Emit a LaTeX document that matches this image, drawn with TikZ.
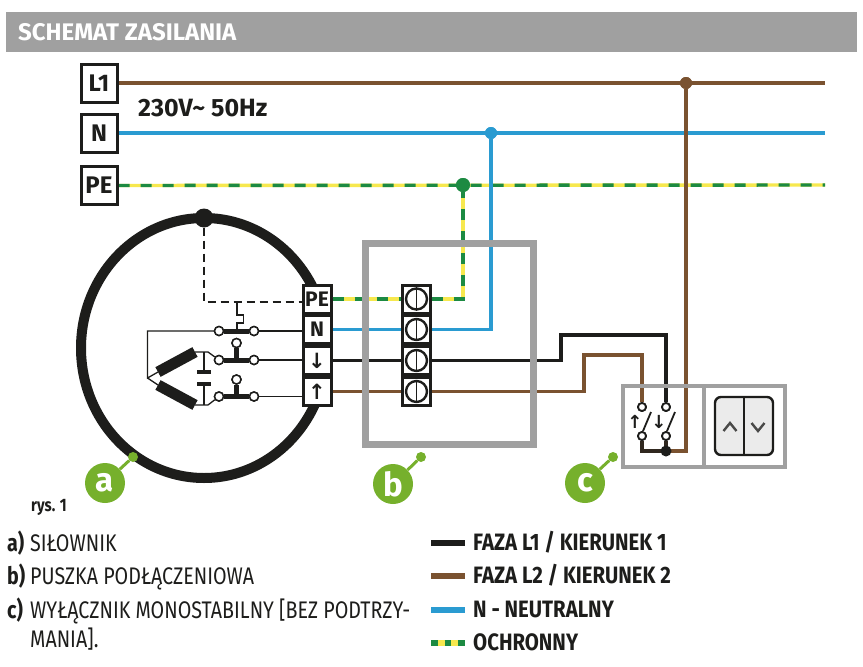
\documentclass[tikz,border=0pt]{standalone}
\usepackage{xcolor}
\usepackage{fontspec}
\setmainfont{Fira Sans}
\newfontfamily\condfont[FakeStretch=0.82]{Fira Sans}
\newfontfamily\medfont[FakeStretch=0.86]{Fira Sans}
\newfontfamily\arrowfont{DejaVu Sans}
\usetikzlibrary{shapes,arrows}
\definecolor{inkblack}{HTML}{1D1D1B}
\definecolor{wirebrown}{HTML}{7A5230}
\definecolor{wireblue}{HTML}{2A9BD1}
\definecolor{peyellow}{HTML}{F7E84E}
\definecolor{pegreen}{HTML}{1C8A42}
\definecolor{boxgray}{HTML}{A0A0A0}
\definecolor{tagreen}{HTML}{76B02C}
\tikzset{
  blackwire/.style={draw=inkblack, line width=3.2pt},
  brownwire/.style={draw=wirebrown, line width=3.2pt},
  bluewire/.style={draw=wireblue, line width=3.2pt},
  pewire/.style={draw=peyellow, line width=3.4pt, postaction={draw=pegreen, line width=3.4pt, dash pattern=on 11pt off 11pt}},
  thinwire/.style={draw=inkblack, line width=1.3pt},
  linebox/.style={draw=inkblack, fill=white, line width=3pt, minimum width=36pt, minimum height=38pt, inner sep=0pt, font=\bfseries\fontsize{24}{24}\selectfont, text=inkblack},
  termbox/.style={draw=inkblack, fill=white, line width=3pt, minimum width=28pt, minimum height=28pt, inner sep=0pt, font=\bfseries\fontsize{21}{21}\selectfont, text=inkblack},
  clampbox/.style={draw=inkblack, fill=white, line width=3pt, minimum width=28pt, minimum height=28pt, inner sep=0pt},
  screwring/.style={circle, draw=inkblack, line width=2.4pt, minimum size=21pt, inner sep=0pt},
  contact/.style={circle, draw=inkblack, fill=white, line width=1.5pt, minimum size=9pt, inner sep=0pt},
  smallcontact/.style={circle, draw=inkblack, fill=white, line width=1.8pt, minimum size=8pt, inner sep=0pt},
  junction/.style={circle, minimum size=#1, inner sep=0pt},
  framebox/.style={draw=boxgray, line width=#1},
  tagdisc/.style={circle, fill=tagreen, minimum size=40pt, inner sep=0pt, text=white, font=\bfseries\fontsize{33}{33}\selectfont},
  tagdot/.style={circle, fill=tagreen, minimum size=10pt, inner sep=0pt},
  notetext/.style={anchor=base west, inner sep=0pt, text=inkblack, font=\condfont\fontsize{24}{24}\selectfont},
  notekey/.style={anchor=base west, inner sep=0pt, text=inkblack, font=\condfont\bfseries\fontsize{24}{24}\selectfont},
  keytext/.style={anchor=base west, inner sep=0pt, text=inkblack, font=\medfont\bfseries\fontsize{23.7}{23.7}\selectfont}
}
\begin{document}
\begin{tikzpicture}[x=1pt, y=-1pt]
  \useasboundingbox (0,0) rectangle (863,667);

  % header
  \fill[boxgray] (6,12) rectangle (857,52);
  \node[anchor=base west, inner sep=0pt, text=white, font=\bfseries\fontsize{24}{24}\selectfont] (title) at (18,40) {SCHEMAT ZASILANIA};

  % supply lines
  \node[linebox] (L1) at (99,83) {L1};
  \node[linebox] (N) at (99,133) {N};
  \node[linebox] (PE) at (99,185.5) {PE};
  \node[anchor=base west, inner sep=0pt, text=inkblack, font=\bfseries\fontsize{25}{25}\selectfont] (voltage) at (138,116) {230V\char"007E\ 50Hz};
  \coordinate (L1end) at (825,83);
  \coordinate (Nend) at (825,133);
  \coordinate (PEend) at (825,185);
  \node[junction=12pt, fill=wirebrown] (L1dot) at (686,83) {};
  \node[junction=12pt, fill=wireblue] (Ndot) at (491,133) {};
  \node[junction=14pt, fill=pegreen] (PEdot) at (463,185) {};

  % actuator
  \draw[inkblack, line width=10pt] (204,348) ellipse (123pt and 130pt);
  \node[junction=19pt, fill=inkblack] (top) at (204,218) {};
  \node[termbox] (tPE) at (317,299) {PE};
  \node[termbox] (tN) at (317,329.5) {N};
  \node[termbox, font=\arrowfont\bfseries\fontsize{21}{21}\selectfont] (tD) at (317,360.5) {↓};
  \node[termbox, font=\arrowfont\bfseries\fontsize{21}{21}\selectfont] (tU) at (317,391.5) {↑};

  % connection box
  \node[clampbox] (cPE) at (416.5,299) {};
  \node[clampbox] (cN) at (416.5,329.5) {};
  \node[clampbox] (cD) at (416.5,360.5) {};
  \node[clampbox] (cU) at (416.5,391.5) {};

  % switch
  \node[smallcontact] (sUa) at (642,407) {};
  \node[smallcontact] (sDa) at (666,407) {};
  \node[smallcontact] (sUb) at (642,436) {};
  \node[smallcontact] (sDb) at (666,436) {};
  \coordinate (bendD) at (561,335);
  \coordinate (bendU) at (584,355);
  \coordinate (cornerU) at (642,451);
  \coordinate (cornerL) at (686,451);

  % wires
  \draw[brownwire] (L1) -- (L1end);
  \draw[bluewire] (N) -- (Nend);
  \draw[pewire] (PE) -- (PEend);
  \draw[pewire] (tPE) -- (cPE);
  \draw[pewire] (cPE) -| (PEdot);
  \draw[bluewire] (tN) -- (cN);
  \draw[bluewire] (cN) -| (Ndot);
  \draw[blackwire] (tD) -- (cD);
  \draw[brownwire] (tU) -- (cU);
  \draw[blackwire] (cD) -| (bendD) -| (sDa);
  \draw[brownwire] (cU) -| (bendU) -| (sUa);
  \draw[brownwire] (L1dot) -- (cornerL) -- (sDb |- cornerL);
  \draw[draw=inkblack!80!wirebrown, line width=3.2pt] (sUb) |- (sDb |- cornerU) -- (sDb);

  % frames go over the wires
  \draw[framebox=7pt] (365.5,243.5) rectangle (533.5,444);
  \draw[framebox=4pt] (622.5,386) rectangle (785,467);
  \draw[framebox=4pt] (703.5,386) -- (703.5,467);

  % redrawn so they lie on top
  \node[clampbox] at (cPE) {};
  \node[clampbox] at (cN) {};
  \node[clampbox] at (cD) {};
  \node[clampbox] at (cU) {};
  \node[linebox] at (L1) {L1};
  \node[linebox] at (N) {N};
  \node[linebox] at (PE) {PE};
  \node[screwring] (sPE) at (cPE) {};
  \node[screwring] (sN) at (cN) {};
  \node[screwring] (sD) at (cD) {};
  \node[screwring] (sU) at (cU) {};
  \foreach \screw in {sPE,sN,sD,sU} {
      \draw[inkblack, line width=1.8pt] (\screw.north) -- (\screw.south);
    }
  \node[junction=12pt, fill=wirebrown] at (L1dot) {};
  \node[junction=12pt, fill=wireblue] at (Ndot) {};
  \node[junction=14pt, fill=pegreen] at (PEdot) {};
  \node[junction=11pt, fill=inkblack] (sDot) at (666,451) {};
  \node[smallcontact] at (sUa) {};
  \node[smallcontact] at (sDa) {};
  \node[smallcontact] at (sUb) {};
  \node[smallcontact] at (sDb) {};
  \draw[inkblack, line width=1.8pt] (sUb.north) ++(1,0) -- (651,412);
  \draw[inkblack, line width=1.8pt] (sDb.north) ++(1,0) -- (675,412);
  \node[inner sep=0pt, text=inkblack, font=\arrowfont\bfseries\fontsize{18}{18}\selectfont] (upmark) at (635,422) {↑};
  \node[inner sep=0pt, text=inkblack, font=\arrowfont\bfseries\fontsize{18}{18}\selectfont] (downmark) at (659,422) {↓};

  % push buttons
  \draw[inkblack, fill=black!8, line width=2.4pt, rounded corners=6pt] (715,397) rectangle (773,455);
  \draw[inkblack, line width=2.2pt] (744,397) -- (744,455);
  \draw[inkblack!80, line width=2.4pt] (723.5,431) -- (730,423) -- (736.5,431);
  \draw[inkblack!80, line width=2.4pt] (751.5,423) -- (758,431) -- (764.5,423);

  % actuator inside
  \coordinate (dashcorner) at (204,302);
  \coordinate (tapa) at (237,302);
  \draw[inkblack, line width=1.8pt, dash pattern=on 8pt off 5pt] (top) -- (dashcorner) -- (tPE.west |- dashcorner);
  \node[contact] (cc1a) at (219,331) {};
  \node[contact] (cc1b) at (254,331) {};
  \node[contact] (cc2a) at (219,360) {};
  \node[contact] (cc2b) at (254,360) {};
  \node[contact] (cc2t) at (236.5,343) {};
  \node[contact] (cc3a) at (219,396.5) {};
  \node[contact] (cc3b) at (254,396.5) {};
  \node[contact] (cc3t) at (236.5,379.5) {};
  \draw[inkblack, line width=1.2pt] (tapa) -- ++(0,13) -- ++(6.5,0) -- ++(0,8) -- ++(-6.5,0) -- (237,331);
  \draw[inkblack, line width=5pt] (cc1a) -- (cc1b);
  \draw[inkblack, line width=5pt] (cc2a) -- (cc2b);
  \draw[inkblack, line width=5pt] (cc3a) -- (cc3b);
  \draw[inkblack, line width=5pt] (cc2t) -- (236.5,360);
  \draw[inkblack, line width=5pt] (cc3t) -- (236.5,396.5);
  \draw[thinwire] (cc1b) -- (tN.west |- cc1b);
  \draw[thinwire] (cc2b) -- (tD.west |- cc2b);
  \draw[thinwire] (cc3b) -- (tU.west |- cc3b);
  \coordinate (star) at (147.5,378);
  \coordinate (upA) at (158,372);
  \coordinate (upB) at (195,352);
  \coordinate (loA) at (158,385);
  \coordinate (loB) at (195,405);
  \coordinate (capT) at (204,352);
  \coordinate (capB) at (204,405);
  \draw[thinwire] (cc1a) -| (star) -- (upA);
  \draw[thinwire] (star) -- (loA);
  \draw[thinwire] (upB) -- (208,352) -- (cc2a);
  \draw[thinwire] (loB) -- (208,405) -- (cc3a);
  \draw[thinwire] (capT) -- (204,372);
  \draw[thinwire] (204,384) -- (capB);
  \draw[inkblack, line width=11pt] (upA) -- (upB);
  \draw[inkblack, line width=11pt] (loA) -- (loB);
  \draw[inkblack, line width=4.5pt] (197,372) -- (211,372);
  \draw[inkblack, line width=4.5pt] (197,384) -- (211,384);
  \node[contact] at (cc1a) {};
  \node[contact] at (cc1b) {};
  \node[contact] at (cc2a) {};
  \node[contact] at (cc2b) {};
  \node[contact] at (cc2t) {};
  \node[contact] at (cc3a) {};
  \node[contact] at (cc3b) {};
  \node[contact] at (cc3t) {};

  % tags
  \node[tagdisc] (taga) at (105,483) {a};
  \node[tagdot] (dota) at (133,457) {};
  \node[tagdisc] (tagb) at (393,484) {b};
  \node[tagdot] (dotb) at (421,457) {};
  \node[tagdisc] (tagc) at (585,483) {c};
  \node[tagdot] (dotc) at (613,457) {};
  \draw[tagreen, line width=3pt] (taga) -- (dota);
  \draw[tagreen, line width=3pt] (tagb) -- (dotb);
  \draw[tagreen, line width=3pt] (tagc) -- (dotc);

  % notes
  \node[anchor=base west, inner sep=0pt, text=inkblack, font=\condfont\bfseries\fontsize{18}{18}\selectfont] (rys) at (31,511) {rys. 1};
  \node[notekey] (keya) at (7,551) {a)};
  \node[notetext] (notea) at (30,551) {SIŁOWNIK};
  \node[notekey] (keyb) at (7,584) {b)};
  \node[notetext] (noteb) at (30,584) {PUSZKA PODŁĄCZENIOWA};
  \node[notekey] (keyc) at (7,618) {c)};
  \node[notetext] (notec) at (30,618) {WYŁĄCZNIK MONOSTABILNY [BEZ PODTRZY-};
  \node[notetext] (notecc) at (30,647) {MANIA].};

  % colour key
  \foreach \ypos/\wirename/\wiretext in {543/blackkey/{FAZA L1 / KIERUNEK 1},576/brownkey/{FAZA L2 / KIERUNEK 2},610/bluekey/{N - NEUTRALNY},643/pekey/{OCHRONNY}} {
      \node[keytext] (\wirename) at (473,\ypos+7.7) {\wiretext};
      \coordinate (\wirename a) at (431,\ypos);
      \coordinate (\wirename b) at (465,\ypos);
    }
  \draw[inkblack, line width=6pt] (blackkeya) -- (blackkeyb);
  \draw[wirebrown, line width=6pt] (brownkeya) -- (brownkeyb);
  \draw[wireblue, line width=6pt] (bluekeya) -- (bluekeyb);
  \draw[peyellow, line width=6pt] (pekeya) -- (pekeyb);
  \draw[pegreen, line width=6pt, dash pattern=on 6.5pt off 7.2pt] (pekeya) -- (pekeyb);
\end{tikzpicture}
\end{document}
